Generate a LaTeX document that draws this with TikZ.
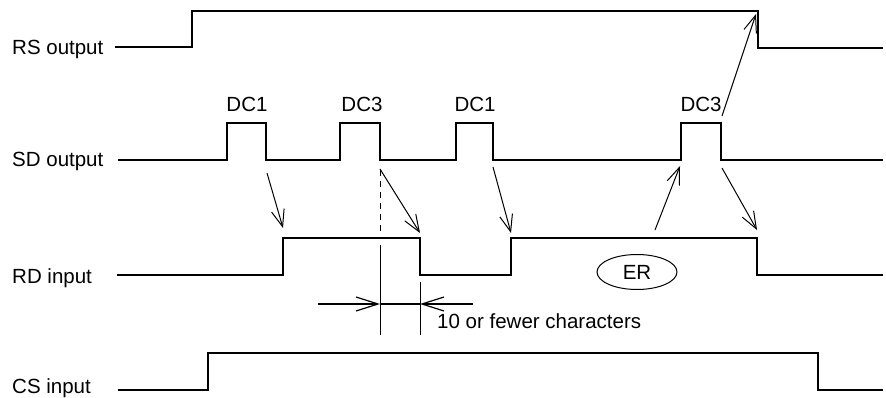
\documentclass[tikz,border=0pt]{standalone}
\usepackage{fontspec}
\setmainfont{Liberation Sans}
\usetikzlibrary{arrows.meta,shapes.geometric}
\begin{document}
\begin{tikzpicture}[x=1pt,y=-1pt,
  sig/.style={line width=1.8pt, line join=miter},
  cause/.style={line width=1pt, -{Straight Barb[length=17pt,width=13pt,line width=1pt]}},
  dim/.style={line width=1.5pt, -{Straight Barb[length=22pt,width=14pt,line width=1.2pt]}},
  lbl/.style={anchor=base west, inner sep=0pt, font=\fontsize{20.5}{24}\selectfont},
  pulse/.style={anchor=base, inner sep=0pt, font=\fontsize{20.5}{24}\selectfont}]
\useasboundingbox (0,0) rectangle (886,398);

% labels
\node[lbl] (rsl) at (12,55) {RS output};
\node[lbl] (sdl) at (12,167) {SD output};
\node[lbl] (rdl) at (12,283) {RD input};
\node[lbl] (csl) at (12,393) {CS input};

% waveforms
\draw[sig] (115,47) -- (192,47) -- (192,11) -- (758,11) -- (758,48) -- (883,48);
\draw[sig] (118,160) -- (227,160) -- (227,123) -- (266,123) -- (266,160)
  -- (340,160) -- (340,123) -- (380,123) -- (380,160)
  -- (456,160) -- (456,123) -- (493,123) -- (493,160)
  -- (681,160) -- (681,123) -- (721,123) -- (721,160) -- (883,160);
\draw[sig] (117,275) -- (283,275) -- (283,238) -- (420,238) -- (420,275)
  -- (511,275) -- (511,238) -- (757,238) -- (757,275) -- (883,275);
\draw[sig] (118,390) -- (208,390) -- (208,353) -- (818,353) -- (818,390) -- (883,390);

% pulse labels
\node[pulse] (dc1a) at (247,112) {DC1};
\node[pulse] (dc3a) at (362,112) {DC3};
\node[pulse] (dc1b) at (475,112) {DC1};
\node[pulse] (dc3b) at (701,112) {DC3};

% ER
\node[draw, ellipse, line width=1pt, minimum width=80pt, minimum height=35pt,
  inner sep=0pt, font=\fontsize{20.5}{24}\selectfont] (er) at (637,272) {ER};

% coordinates for cause arrows
\coordinate (a1s) at (267,173);
\coordinate (a1e) at (283,228);
\coordinate (a2s) at (380,169);
\coordinate (a2e) at (420,233);
\coordinate (a3s) at (493,167);
\coordinate (a3e) at (511,233);
\coordinate (a4s) at (655,230);
\coordinate (a4e) at (680,166);
\coordinate (a5s) at (722,168);
\coordinate (a5e) at (757,230);
\coordinate (a6s) at (722,116);
\coordinate (a6e) at (756,14);

\draw[cause] (a1s) -- (a1e);
\draw[cause] (a2s) -- (a2e);
\draw[cause] (a3s) -- (a3e);
\draw[cause] (a4s) -- (a4e);
\draw[cause] (a5s) -- (a5e);
\draw[cause] (a6s) -- (a6e);

% timing marks
\coordinate (m1t) at (380,170);
\coordinate (m1a) at (380,232);
\coordinate (m1b) at (380,245);
\coordinate (m1e) at (380,335);
\coordinate (m2t) at (420,282);
\coordinate (m2e) at (420,335);
\draw[line width=0.9pt, dash pattern=on 6pt off 5pt] (m1t) -- (m1a);
\draw[line width=0.9pt] (m1b) -- (m1e);
\draw[line width=0.9pt] (m2t) -- (m2e);

\coordinate (d1s) at (318,304);
\coordinate (d1e) at (380,304);
\coordinate (d2s) at (473,304);
\coordinate (d2e) at (420,304);
\draw[dim] (d1s) -- (d1e);
\draw[dim] (d2s) -- (d2e);
\draw[line width=1.5pt] (d1e) -- (d2e);

\node[lbl] (few) at (437,328) {10 or fewer characters};
\end{tikzpicture}
\end{document}
